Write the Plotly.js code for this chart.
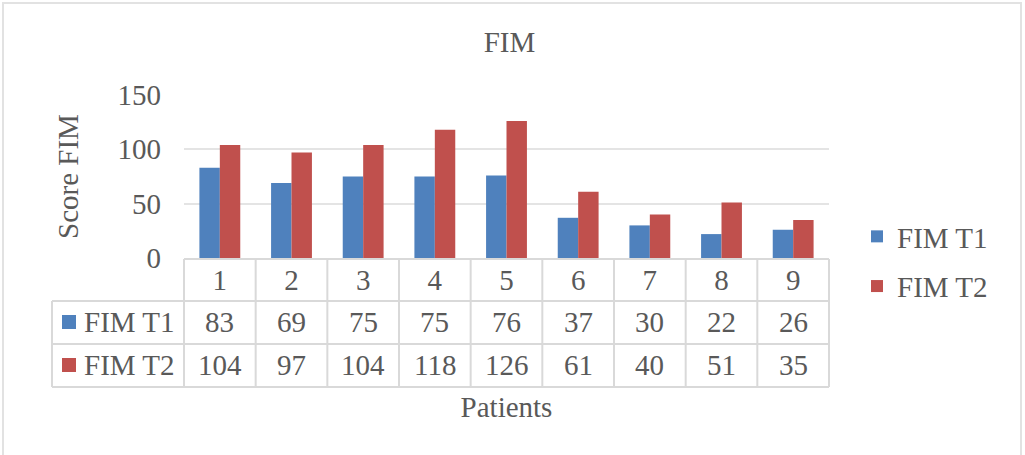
<!DOCTYPE html>
<html>
<head>
<meta charset="utf-8">
<script src="https://cdn.plot.ly/plotly-3.0.1.min.js"></script>
<style>
  html, body { margin: 0; padding: 0; background: #ffffff; }
  #chart { width: 1025px; height: 455px; }
</style>
</head>
<body>
<div id="chart"></div>
<script>
// FIM scores per patient, at T1 and T2
const patients = ['1', '2', '3', '4', '5', '6', '7', '8', '9'];
const fimT1 = [83, 69, 75, 75, 76, 37, 30, 22, 26];
const fimT2 = [104, 97, 104, 118, 126, 61, 40, 51, 35];
const seriesNames = ['FIM T1', 'FIM T2'];
const seriesColors = ['#4F81BD', '#C0504D'];
const yTickValues = [0, 50, 100, 150];

const series = [fimT1, fimT2];

// Page and plot-area geometry (pixels)
const W = 1025, H = 455;
const L = 184, R = 829, T = 95, B = 258;
const px = x => (x - L) / (R - L);
const py = y => (B - y) / (B - T);

const FONT = "'Liberation Serif', 'Times New Roman', serif";
const FS = 29;
const TEXT = '#595959';
const RULE = '#d9d9d9';

const traces = series.map((vals, s) => ({
  type: 'bar',
  name: seriesNames[s],
  legendgroup: seriesNames[s],
  x: patients,
  y: vals,
  marker: { color: seriesColors[s], line: { width: 0 } },
  hoverinfo: 'x+y+name'
}));

// Data table under the axis: grid lines
const shapes = [];
const tableTop = 259, rowLines = [301, 344, 387], tableLeft = 52;
shapes.push({ type: 'line', xref: 'paper', yref: 'paper',
  x0: 0, x1: 1, y0: py(tableTop), y1: py(tableTop),
  line: { color: RULE, width: 2 } });
rowLines.forEach(yy => shapes.push({ type: 'line', xref: 'paper', yref: 'paper',
  x0: px(tableLeft), x1: 1, y0: py(yy), y1: py(yy),
  line: { color: RULE, width: 2 } }));
for (let i = 0; i <= patients.length; i++) {
  shapes.push({ type: 'line', xref: 'paper', yref: 'paper',
    x0: i / patients.length, x1: i / patients.length,
    y0: py(tableTop), y1: py(rowLines[2]),
    line: { color: RULE, width: 2 } });
}
shapes.push({ type: 'line', xref: 'paper', yref: 'paper',
  x0: px(tableLeft), x1: px(tableLeft), y0: py(rowLines[0]), y1: py(rowLines[2]),
  line: { color: RULE, width: 2 } });

// Row keys: colour squares in the table's first column
const rowCenters = [322, 365];
series.forEach((vals, s) => {
  shapes.push({ type: 'rect', xref: 'paper', yref: 'paper',
    x0: px(62), x1: px(76), y0: py(rowCenters[s] + 7), y1: py(rowCenters[s] - 7),
    fillcolor: seriesColors[s], line: { width: 0 } });
});

// Outer chart frame
shapes.push({ type: 'rect', xref: 'paper', yref: 'paper',
  x0: px(3), x1: px(1021), y0: py(458), y1: py(3),
  line: { color: '#e2e2e2', width: 2 }, fillcolor: 'rgba(0,0,0,0)' });

const annotations = [];
series.forEach((vals, s) => {
  annotations.push({ xref: 'paper', yref: 'paper', x: px(82), y: py(rowCenters[s]),
    xanchor: 'left', yanchor: 'middle', showarrow: false, text: seriesNames[s],
    font: { family: FONT, size: FS, color: TEXT } });
  vals.forEach((v, i) => {
    annotations.push({ xref: 'x', yref: 'paper', x: i, y: py(rowCenters[s]),
      xanchor: 'center', yanchor: 'middle', showarrow: false, text: String(v),
      font: { family: FONT, size: FS, color: TEXT } });
  });
});

const layout = {
  width: W, height: H,
  margin: { l: L, r: W - R, t: T, b: H - B, pad: 0 },
  paper_bgcolor: '#ffffff',
  plot_bgcolor: '#ffffff',
  font: { family: FONT, size: FS, color: TEXT },
  title: {
    text: 'FIM', xref: 'container', x: 0.497, y: 1 - 42 / H, yanchor: 'middle',
    font: { family: FONT, size: FS, color: TEXT }
  },
  barmode: 'group',
  bargap: 0.43,
  bargroupgap: 0,
  showlegend: true,
  legend: {
    x: px(857), xanchor: 'left', y: py(211), yanchor: 'top',
    traceorder: 'grouped', tracegroupgap: 9,
    font: { family: FONT, size: FS, color: TEXT },
    bgcolor: 'rgba(0,0,0,0)'
  },
  xaxis: {
    type: 'category',
    range: [-0.5, patients.length - 0.5],
    autorange: false,
    showgrid: false, zeroline: false, showline: false, ticks: '',
    ticklabelstandoff: 2,
    tickfont: { family: FONT, size: FS, color: TEXT },
    title: { text: 'Patients', standoff: 101, font: { family: FONT, size: FS, color: TEXT } },
    automargin: false,
    fixedrange: true
  },
  yaxis: {
    range: [0, 150],
    autorange: false,
    tickvals: yTickValues,
    ticktext: yTickValues.map(String),
    showgrid: true, gridcolor: '#e4e4e4', gridwidth: 2,
    zeroline: false, showline: false, ticks: '',
    ticklabelstandoff: 22,
    tickfont: { family: FONT, size: FS, color: TEXT },
    title: { text: 'Score FIM', standoff: 30, font: { family: FONT, size: FS, color: TEXT } },
    automargin: false,
    fixedrange: true
  },
  shapes: shapes,
  annotations: annotations
};

Plotly.newPlot('chart', traces, layout, { displayModeBar: false, staticPlot: true });
</script>
</body>
</html>
